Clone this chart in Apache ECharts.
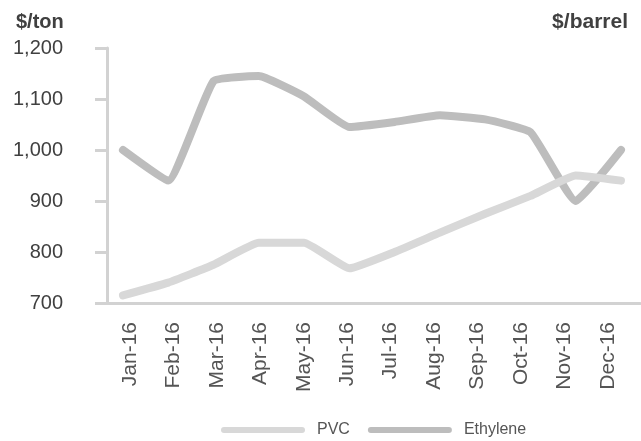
<!DOCTYPE html>
<html>
<head>
<meta charset="utf-8">
<script src="https://cdn.jsdelivr.net/npm/echarts@6/dist/echarts.min.js"></script>
<style>
  html, body { margin: 0; padding: 0; background: #ffffff; }
  #chart { width: 641px; height: 441px; }
</style>
</head>
<body>
<div id="chart"></div>
<script>
// Monthly prices, 2016
const months = ['Jan-16', 'Feb-16', 'Mar-16', 'Apr-16', 'May-16', 'Jun-16',
                'Jul-16', 'Aug-16', 'Sep-16', 'Oct-16', 'Nov-16', 'Dec-16'];
const pvc      = [715, 740, 775, 818, 818, 768, 800, 838, 875, 910, 950, 940];
const ethylene = [1000, 940, 1135, 1145, 1105, 1045, 1055, 1068, 1060, 1035, 900, 1000];
const yTicks = { min: 700, max: 1200, step: 100 };

const FONT = '"Liberation Sans", Arial, Helvetica, sans-serif';
const AXIS_GREY = '#d2d2d2';
const TEXT_GREY = '#404040';

const toPoints = arr => arr.map((v, i) => [i, v]);
const monthIdx = months.map((_, i) => i);

const chart = echarts.init(document.getElementById('chart'), null, { renderer: 'canvas' });

chart.setOption({
  animation: false,
  backgroundColor: '#ffffff',
  title: [
    { text: '$/ton', left: 11, top: 7,
      textStyle: { fontFamily: FONT, fontSize: 20, fontWeight: 'bold', color: TEXT_GREY } },
    { text: '$/barrel', right: 8, top: 7,
      textStyle: { fontFamily: FONT, fontSize: 21, fontWeight: 'bold', color: TEXT_GREY } }
  ],
  grid: { left: 107, right: 1, top: 48, bottom: 138, containLabel: false },
  legend: {
    data: ['PVC', 'Ethylene'],
    left: 216, top: 417,
    itemWidth: 84, itemHeight: 6, itemGap: 18,
    icon: 'path://M3,0 H81 A3,3 0 0 1 81,6 H3 A3,3 0 0 1 3,0 Z',
    textStyle: { fontFamily: FONT, fontSize: 16, color: '#555555', padding: [0, 0, 0, 7] }
  },
  xAxis: [
    {
      // data axis: month index positions
      type: 'value',
      min: -0.353, max: 11.42,
      axisLine: { show: true, onZero: false, lineStyle: { color: AXIS_GREY, width: 3 } },
      axisTick: { show: false },
      axisLabel: { show: false },
      splitLine: { show: false }
    },
    {
      // month labels
      type: 'value',
      position: 'bottom',
      min: -0.53, max: 11.74,
      axisLine: { show: false, onZero: false },
      axisTick: { show: false },
      splitLine: { show: false },
      axisLabel: {
        customValues: monthIdx,
        formatter: v => months[Math.round(v)],
        rotate: 90,
        margin: 19,
        fontFamily: FONT, fontSize: 21, color: '#555555'
      }
    }
  ],
  yAxis: {
    type: 'value',
    min: yTicks.min, max: yTicks.max, interval: yTicks.step,
    axisLine: { show: true, onZero: false, lineStyle: { color: AXIS_GREY, width: 3 } },
    axisTick: { show: true, length: 12, lineStyle: { color: AXIS_GREY, width: 3 } },
    splitLine: { show: false },
    axisLabel: {
      margin: 44,
      fontFamily: FONT, fontSize: 20, color: TEXT_GREY,
      formatter: v => v.toLocaleString('en-US')
    }
  },
  series: [
    {
      name: 'Ethylene', type: 'line', xAxisIndex: 0,
      data: toPoints(ethylene),
      smooth: 0.12, symbol: 'none',
      color: '#bdbdbd',
      lineStyle: { width: 8, color: '#bdbdbd', cap: 'round', join: 'round' }
    },
    {
      name: 'PVC', type: 'line', xAxisIndex: 0,
      data: toPoints(pvc),
      smooth: 0.12, symbol: 'none',
      color: '#d8d8d8',
      lineStyle: { width: 8, color: '#d8d8d8', cap: 'round', join: 'round' }
    }
  ]
});
</script>
</body>
</html>
